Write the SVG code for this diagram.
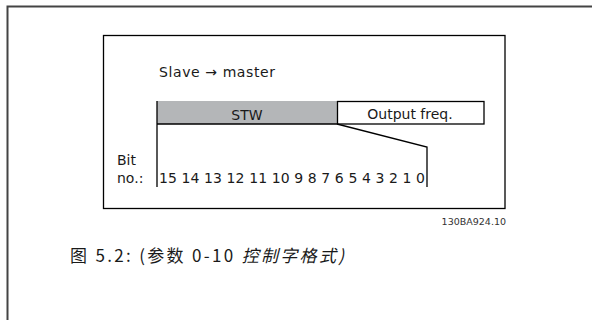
<svg xmlns="http://www.w3.org/2000/svg" width="592" height="320" viewBox="0 0 592 320">
<style>
.t{font-family:"DejaVu Sans","Verdana",sans-serif;font-size:14px;fill:#1a1a1a}
.ln{stroke:#000;stroke-width:1.3;fill:none}
.cap{font-family:"Noto Sans CJK SC","Noto Sans",sans-serif;font-size:17px;fill:#1a1a1a}
</style>
<rect width="592" height="320" fill="#fff"/>
<g id="frame">
<path d="M7.5,320 V6.5 H592" fill="none" stroke="#444" stroke-width="2"/>
<rect x="103.5" y="35.5" width="401.5" height="173" class="ln"/>
</g>
<g id="title"><text class="t" x="159" y="77" textLength="116" lengthAdjust="spacing">Slave → master</text></g>
<g id="stw">
<rect x="157" y="101" width="180" height="23" fill="#b4b6b8"/>
<text class="t" x="247" y="120" text-anchor="middle">STW</text>
</g>
<g id="output">
<rect x="337.5" y="101.5" width="146.5" height="22.5" fill="#fff" class="ln"/>
<text class="t" x="410" y="119" text-anchor="middle">Output freq.</text>
</g>
<g id="connectors">
<path class="ln" d="M157,101 V187 M157,124 H337 L427,147 V187"/>
</g>
<g id="bits">
<text class="t" x="117" y="165">Bit</text>
<text class="t" x="117" y="183">no.:</text>
<text class="t" x="159" y="183" textLength="266" lengthAdjust="spacing">15 14 13 12 11 10 9 8 7 6 5 4 3 2 1 0</text>
</g>
<g id="label"><text x="506" y="225" text-anchor="end" font-family="DejaVu Sans, sans-serif" font-size="9.5" fill="#333">130BA924.10</text></g>
<g id="caption"><text class="cap" x="70" y="262" textLength="274" lengthAdjust="spacing">图 5.2: (参数 0-10 <tspan font-style="italic">控制字格式)</tspan></text></g>
</svg>
